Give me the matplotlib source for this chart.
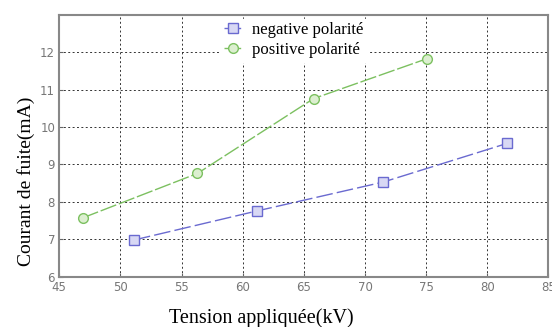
import matplotlib
matplotlib.use("Agg")
import matplotlib.pyplot as plt

# leakage current vs applied voltage
neg_kv = [51.1, 61.2, 71.5, 81.6]
neg_ma = [6.98, 7.76, 8.53, 9.56]
pos_kv = [46.9, 56.3, 65.8, 75.1]
pos_ma = [7.57, 8.76, 10.76, 11.83]

x_ticks = [45, 50, 55, 60, 65, 70, 75, 80, 85]
y_ticks = [6, 7, 8, 9, 10, 11, 12]

neg_color = '#6a6ad0'
pos_color = '#7cc060'

fig = plt.figure(figsize=(5.52, 3.27), dpi=100)
ax = fig.add_axes([0.1074, 0.1538, 0.886, 0.801])

ax.plot(neg_kv, neg_ma, color=neg_color, lw=1.0, dashes=(12, 3),
        marker='s', ms=7, mfc='#d8d8f4', mec=neg_color, mew=1.0,
        label='negative polarité')
ax.plot(pos_kv, pos_ma, color=pos_color, lw=1.0, dashes=(12, 2),
        marker='o', ms=7, mfc='#dcefd0', mec=pos_color, mew=1.0,
        label='positive polarité')

ax.set_xlim(45, 85)
ax.set_ylim(6, 13)
ax.set_xticks(x_ticks)
ax.set_yticks(y_ticks)
ax.tick_params(direction='in', length=3, labelsize=8.5, colors='#666666',
               labelcolor='#777777', pad=3)
ax.grid(True, color='#333333', linestyle=(0, (2, 2.5)), linewidth=0.7)
for s in ax.spines.values():
    s.set_color('#888888')
    s.set_linewidth(1.5)

ax.set_xlabel('Tension appliquée(kV)', family='Liberation Serif', fontsize=14.5)
ax.set_ylabel('Courant de fuite(mA)', family='Liberation Serif', fontsize=14)
ax.xaxis.set_label_coords(0.413, -0.12)
ax.yaxis.set_label_coords(-0.05, 0.365)

leg = ax.legend(loc='upper left', bbox_to_anchor=(0.329, 0.985),
                prop={'family': 'Liberation Serif', 'size': 12},
                frameon=True, fancybox=False, framealpha=1,
                edgecolor='white', handlelength=1.1, labelspacing=0.25,
                borderpad=0.2, handletextpad=0.6, borderaxespad=0)

fig.savefig('out.png', dpi=100)
